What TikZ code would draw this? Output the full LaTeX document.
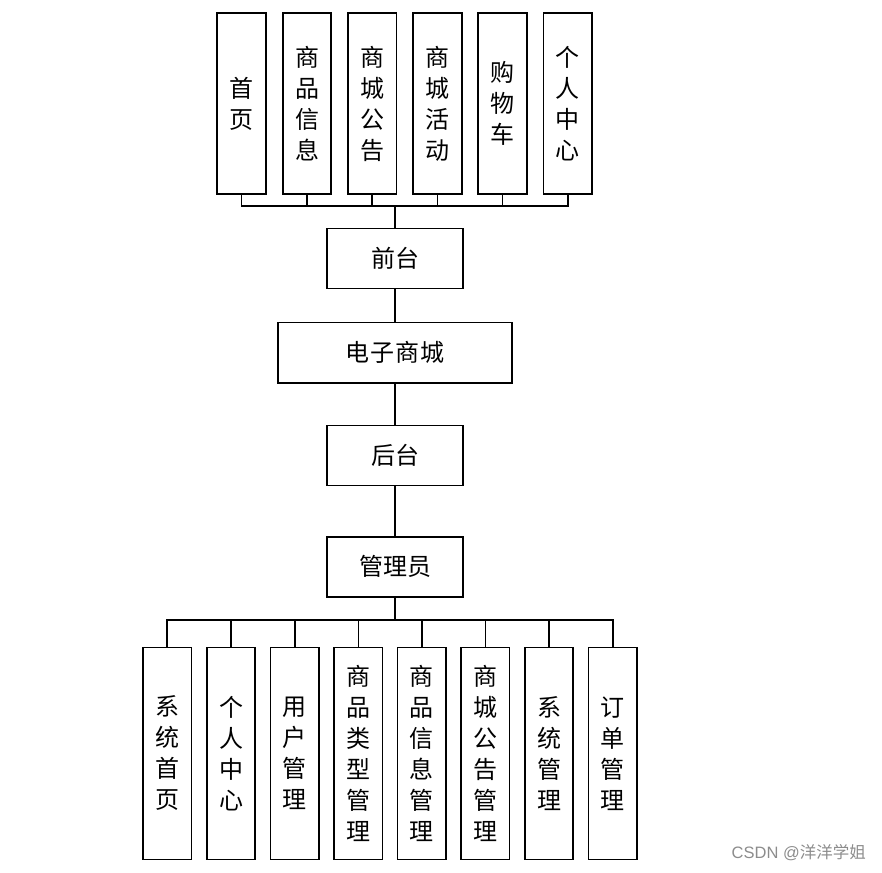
\documentclass[tikz,border=0pt]{standalone}
\usepackage{fontspec}
\newfontfamily\cjk{Noto Sans CJK SC}
\newfontfamily\wm{Liberation Sans}
\begin{document}
\begin{tikzpicture}[x=1pt,y=-1pt,
  box/.style={draw,line width=1.6pt,inner sep=0pt,align=center,
    font=\cjk\fontsize{24}{31}\selectfont},
  vbox/.style={box,minimum width=48.5pt},
  hbox/.style={box,minimum width=136.5pt,minimum height=60pt},
  conn/.style={line width=1.6pt},
  trunk/.style={line width=1.8pt}]
\useasboundingbox (0,0) rectangle (882,872);
% top row
\foreach \n/\x/\t in {t1/241.5/首\\页, t2/307/商\\品\\信\\息, t3/372.2/商\\城\\公\\告,
  t4/437.5/商\\城\\活\\动, t5/502.5/购\\物\\车, t6/567.7/个\\人\\中\\心}
  \node[vbox,minimum height=181.5pt] (\n) at (\x,103.5) {\t};
\node[hbox] (qt) at (395,258.3) {前台};
\node[box,minimum width=234.5pt,minimum height=60.4pt] (dz) at (395,352.5) {电\hspace{1pt}子\hspace{1pt}商\hspace{1pt}城};
\node[hbox] (ht) at (395,455.5) {后台};
\node[hbox] (gly) at (395,566.7) {管理员};
\coordinate (busT) at (395,205.7);
\coordinate (busB) at (395,620);
\foreach \n in {t1,t2,t3,t4,t5,t6}
  \draw[conn] (\n.south) |- (busT);
\draw[trunk] (busT) -- (qt.north);
\draw[trunk] (qt.south) -- (dz.north);
\draw[trunk] (dz.south) -- (ht.north);
\draw[trunk] (ht.south) -- (gly.north);
\draw[trunk] (gly.south) -- (busB);
% bottom row
\foreach \n/\x/\t in {b1/167.2/系\\统\\首\\页, b2/231/个\\人\\中\\心, b3/294.7/用\\户\\管\\理,
  b4/358.3/商\\品\\类\\型\\管\\理, b5/421.8/商\\品\\信\\息\\管\\理, b6/485.3/商\\城\\公\\告\\管\\理,
  b7/549/系\\统\\管\\理, b8/612.7/订\\单\\管\\理}
  {\node[vbox,minimum height=212pt] (\n) at (\x,753.3) {\t};
   \draw[conn] (busB) -| (\n.north);}
\node[text=black!45,font=\wm\fontsize{16.5}{18}\selectfont,anchor=east,inner sep=0pt] (wmk) at (866,853) {CSDN @{\cjk 洋洋学姐}};
\end{tikzpicture}
\end{document}
